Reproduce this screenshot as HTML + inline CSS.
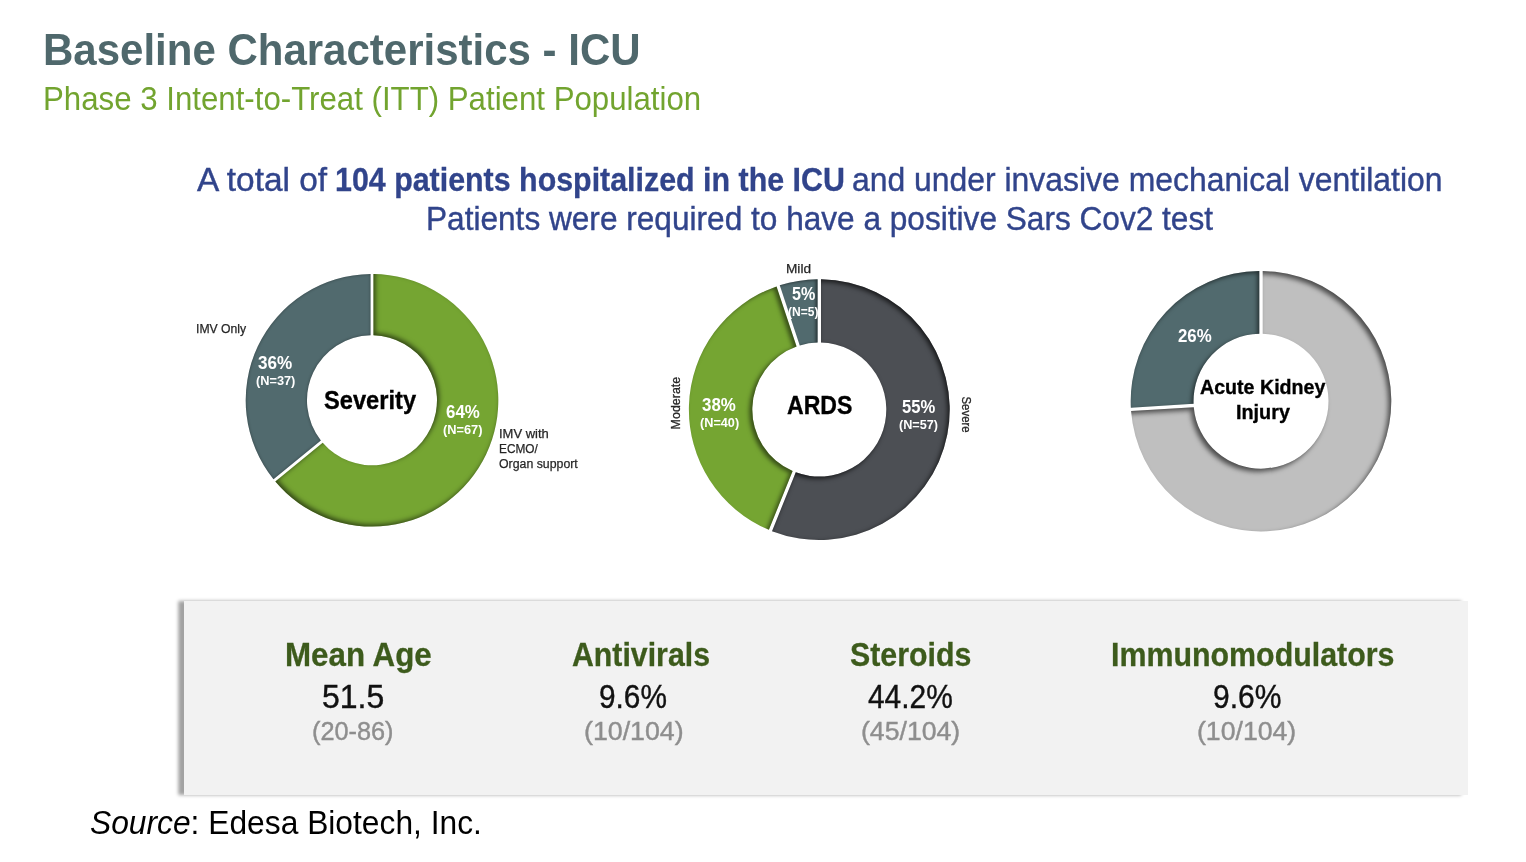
<!DOCTYPE html>
<html lang="en"><head><meta charset="utf-8"><title>Baseline Characteristics - ICU</title>
<style>
html,body{margin:0;padding:0;background:#fff;}
body{width:1526px;height:862px;position:relative;overflow:hidden;font-family:"Liberation Sans", sans-serif;}
.t{position:absolute;white-space:nowrap;line-height:1;margin:0;padding:0;transform-origin:0 0;}
.panel{position:absolute;left:184px;top:601px;width:1284px;height:194px;background:#F2F2F2;
  box-shadow:-6.5px 0 3.5px rgba(0,0,0,.37);}
svg.charts{position:absolute;left:0;top:0;}
svg.charts text{font-family:"Liberation Sans", sans-serif;stroke:#262626;stroke-width:.3px;}
svg.charts{filter:blur(.55px);}
.cl{filter:blur(.5px);}
.sm{-webkit-text-stroke:.25px #262626;}
#c1t,#c2t,#c3t,#c3u{-webkit-text-stroke:.35px #000;}
.rg{-webkit-text-stroke:.4px currentColor;}
#s1l,#s2l,#s3l,#s4l,#b1b{-webkit-text-stroke:.3px currentColor;}
</style></head>
<body>
<div class="panel"></div>
<svg class="charts" width="1526" height="862" viewBox="0 0 1526 862">
<defs>
<filter id="f1g" x="-10%" y="-10%" width="120%" height="120%" color-interpolation-filters="sRGB">
<feComponentTransfer in="SourceAlpha" result="inv"><feFuncA type="table" tableValues="1 0"/></feComponentTransfer>
<feGaussianBlur in="inv" stdDeviation="2.6" result="b"/>
<feOffset in="b" dx="2.4" dy="-2.4" result="o"/>
<feFlood flood-color="#000" flood-opacity="0.58" result="c"/>
<feComposite in="c" in2="o" operator="in" result="s"/>
<feComposite in="s" in2="SourceAlpha" operator="in" result="si"/>
<feMerge><feMergeNode in="SourceGraphic"/><feMergeNode in="si"/></feMerge>
</filter>
<filter id="f1t" x="-10%" y="-10%" width="120%" height="120%" color-interpolation-filters="sRGB">
<feComponentTransfer in="SourceAlpha" result="inv"><feFuncA type="table" tableValues="1 0"/></feComponentTransfer>
<feGaussianBlur in="inv" stdDeviation="1.8" result="b"/>
<feOffset in="b" dx="0.3" dy="0.0" result="o"/>
<feFlood flood-color="#000" flood-opacity="0.38" result="c"/>
<feComposite in="c" in2="o" operator="in" result="s"/>
<feComposite in="s" in2="SourceAlpha" operator="in" result="si"/>
<feMerge><feMergeNode in="SourceGraphic"/><feMergeNode in="si"/></feMerge>
</filter>
<filter id="f2d" x="-10%" y="-10%" width="120%" height="120%" color-interpolation-filters="sRGB">
<feComponentTransfer in="SourceAlpha" result="inv"><feFuncA type="table" tableValues="1 0"/></feComponentTransfer>
<feGaussianBlur in="inv" stdDeviation="2.4" result="b"/>
<feOffset in="b" dx="-2.4" dy="2.4" result="o"/>
<feFlood flood-color="#000" flood-opacity="0.7" result="c"/>
<feComposite in="c" in2="o" operator="in" result="s"/>
<feComposite in="s" in2="SourceAlpha" operator="in" result="si"/>
<feMerge><feMergeNode in="SourceGraphic"/><feMergeNode in="si"/></feMerge>
</filter>
<filter id="f2g" x="-10%" y="-10%" width="120%" height="120%" color-interpolation-filters="sRGB">
<feComponentTransfer in="SourceAlpha" result="inv"><feFuncA type="table" tableValues="1 0"/></feComponentTransfer>
<feGaussianBlur in="inv" stdDeviation="2.2" result="b"/>
<feOffset in="b" dx="-2.6" dy="1.6" result="o"/>
<feFlood flood-color="#000" flood-opacity="0.52" result="c"/>
<feComposite in="c" in2="o" operator="in" result="s"/>
<feComposite in="s" in2="SourceAlpha" operator="in" result="si"/>
<feMerge><feMergeNode in="SourceGraphic"/><feMergeNode in="si"/></feMerge>
</filter>
<filter id="f2t" x="-10%" y="-10%" width="120%" height="120%" color-interpolation-filters="sRGB">
<feComponentTransfer in="SourceAlpha" result="inv"><feFuncA type="table" tableValues="1 0"/></feComponentTransfer>
<feGaussianBlur in="inv" stdDeviation="1.6" result="b"/>
<feOffset in="b" dx="-2.0" dy="1.0" result="o"/>
<feFlood flood-color="#000" flood-opacity="0.5" result="c"/>
<feComposite in="c" in2="o" operator="in" result="s"/>
<feComposite in="s" in2="SourceAlpha" operator="in" result="si"/>
<feMerge><feMergeNode in="SourceGraphic"/><feMergeNode in="si"/></feMerge>
</filter>
<filter id="f3l" x="-10%" y="-10%" width="120%" height="120%" color-interpolation-filters="sRGB">
<feComponentTransfer in="SourceAlpha" result="inv"><feFuncA type="table" tableValues="1 0"/></feComponentTransfer>
<feGaussianBlur in="inv" stdDeviation="2.6" result="b"/>
<feOffset in="b" dx="-2.6" dy="2.6" result="o"/>
<feFlood flood-color="#000" flood-opacity="0.6" result="c"/>
<feComposite in="c" in2="o" operator="in" result="s"/>
<feComposite in="s" in2="SourceAlpha" operator="in" result="si"/>
<feMerge><feMergeNode in="SourceGraphic"/><feMergeNode in="si"/></feMerge>
</filter>
<filter id="f3t" x="-10%" y="-10%" width="120%" height="120%" color-interpolation-filters="sRGB">
<feComponentTransfer in="SourceAlpha" result="inv"><feFuncA type="table" tableValues="1 0"/></feComponentTransfer>
<feGaussianBlur in="inv" stdDeviation="2.2" result="b"/>
<feOffset in="b" dx="-2.5" dy="2.0" result="o"/>
<feFlood flood-color="#000" flood-opacity="0.55" result="c"/>
<feComposite in="c" in2="o" operator="in" result="s"/>
<feComposite in="s" in2="SourceAlpha" operator="in" result="si"/>
<feMerge><feMergeNode in="SourceGraphic"/><feMergeNode in="si"/></feMerge>
</filter>
</defs>
<path d="M373.45 274.01A126.3 126.3 0 1 1 275.33 481.58L322.71 442.67A65.0 65.0 0 1 0 373.45 335.32Z" fill="#75A532" filter="url(#f1g)"/>
<path d="M273.49 479.34A126.3 126.3 0 0 1 370.55 274.01L370.55 335.32A65.0 65.0 0 0 0 320.86 440.43Z" fill="#516A6E" filter="url(#f1t)"/>
<path d="M821.00 279.21A130.4 130.4 0 1 1 772.03 531.13L795.79 472.34A67.0 67.0 0 1 0 821.00 342.62Z" fill="#4C4F54" filter="url(#f2d)"/>
<path d="M768.88 529.86A130.4 130.4 0 0 1 776.53 286.41L796.55 346.58A67.0 67.0 0 0 0 792.63 471.06Z" fill="#75A532" filter="url(#f2g)"/>
<path d="M779.76 285.34A130.4 130.4 0 0 1 817.60 279.21L817.60 342.62A67.0 67.0 0 0 0 799.77 345.51Z" fill="#516A6E" filter="url(#f2t)"/>
<path d="M1262.70 270.91A130.3 130.3 0 1 1 1131.07 411.08L1193.76 407.13A67.5 67.5 0 1 0 1262.70 333.72Z" fill="#BFBFBF" filter="url(#f3l)"/>
<path d="M1130.86 407.68A130.3 130.3 0 0 1 1259.30 270.91L1259.30 333.72A67.5 67.5 0 0 0 1193.55 403.74Z" fill="#516A6E" filter="url(#f3t)"/>
<text x="680.1" y="429.4" font-size="12.5" font-weight="400" fill="#262626" textLength="52.6" lengthAdjust="spacingAndGlyphs" transform="rotate(-90 680.1 429.4)">Moderate</text>
<text x="961.6" y="396.5" font-size="12.5" font-weight="400" fill="#262626" textLength="36.2" lengthAdjust="spacingAndGlyphs" transform="rotate(90 961.6 396.5)">Severe</text>
</svg>
<div class="t" id="title" style="left:42.99px;top:26.50px;font-size:45px;font-weight:700;color:#4F686C;transform:scaleX(0.9333)">Baseline Characteristics - ICU</div>
<div class="t" id="sub" style="left:42.64px;top:82.60px;font-size:32.8px;font-weight:400;color:#72A42F;transform:scaleX(0.9518)">Phase 3 Intent-to-Treat (ITT) Patient Population</div>
<div class="t rg" id="b1a" style="left:196.83px;top:162.70px;font-size:33.5px;font-weight:400;color:#31448B;transform:scaleX(0.9980)">A total of</div>
<div class="t" id="b1b" style="left:334.89px;top:162.70px;font-size:33.5px;font-weight:700;color:#31448B;transform:scaleX(0.9070)">104 patients hospitalized in the ICU</div>
<div class="t rg" id="b1c" style="left:852.24px;top:162.70px;font-size:33.5px;font-weight:400;color:#31448B;transform:scaleX(0.9522)">and under invasive mechanical ventilation</div>
<div class="t rg" id="b2" style="left:425.81px;top:201.70px;font-size:33.5px;font-weight:400;color:#31448B;transform:scaleX(0.9434)">Patients were required to have a positive Sars Cov2 test</div>
<div class="t" id="s1l" style="left:285.41px;top:639.00px;font-size:32.5px;font-weight:700;color:#3D5B1C;transform:scaleX(0.9630)">Mean Age</div>
<div class="t rg" id="s1v" style="left:322.42px;top:681.10px;font-size:32.6px;font-weight:400;color:#111;transform:scaleX(0.9811)">51.5</div>
<div class="t rg" id="s1s" style="left:312.03px;top:718.80px;font-size:25px;font-weight:400;color:#8E8E8E;transform:scaleX(1.0117)">(20-86)</div>
<div class="t" id="s2l" style="left:572.15px;top:639.00px;font-size:32.5px;font-weight:700;color:#3D5B1C;transform:scaleX(0.9317)">Antivirals</div>
<div class="t rg" id="s2v" style="left:599.40px;top:681.10px;font-size:32.6px;font-weight:400;color:#111;transform:scaleX(0.9151)">9.6%</div>
<div class="t rg" id="s2s" style="left:583.74px;top:718.80px;font-size:25px;font-weight:400;color:#8E8E8E;transform:scaleX(1.0697)">(10/104)</div>
<div class="t" id="s3l" style="left:850.23px;top:639.00px;font-size:32.5px;font-weight:700;color:#3D5B1C;transform:scaleX(0.9337)">Steroids</div>
<div class="t rg" id="s3v" style="left:867.51px;top:681.10px;font-size:32.6px;font-weight:400;color:#111;transform:scaleX(0.9175)">44.2%</div>
<div class="t rg" id="s3s" style="left:860.95px;top:718.80px;font-size:25px;font-weight:400;color:#8E8E8E;transform:scaleX(1.0653)">(45/104)</div>
<div class="t" id="s4l" style="left:1111.07px;top:639.00px;font-size:32.5px;font-weight:700;color:#3D5B1C;transform:scaleX(0.9345)">Immunomodulators</div>
<div class="t rg" id="s4v" style="left:1212.59px;top:681.10px;font-size:32.6px;font-weight:400;color:#111;transform:scaleX(0.9221)">9.6%</div>
<div class="t rg" id="s4s" style="left:1197.45px;top:718.80px;font-size:25px;font-weight:400;color:#8E8E8E;transform:scaleX(1.0653)">(10/104)</div>
<div class="t" id="src" style="left:90.10px;top:806.40px;font-size:33px;font-weight:400;color:#000;transform:scaleX(0.9623)"><i>Source</i>: Edesa Biotech, Inc.</div>
<div class="t cl sm" id="c1a" style="left:195.87px;top:323.20px;font-size:12.5px;font-weight:400;color:#262626;transform:scaleX(0.9755)">IMV Only</div>
<div class="t cl" id="c1p" style="left:257.91px;top:353.50px;font-size:18.7px;font-weight:700;color:#fff;transform:scaleX(0.9155)">36%</div>
<div class="t cl" id="c1n" style="left:255.56px;top:374.60px;font-size:12.5px;font-weight:700;color:#fff;transform:scaleX(1.0210)">(N=37)</div>
<div class="t cl" id="c1t" style="left:324.22px;top:387.70px;font-size:25.4px;font-weight:700;color:#000;transform:scaleX(0.9322)">Severity</div>
<div class="t cl" id="c1q" style="left:445.98px;top:402.80px;font-size:18.7px;font-weight:700;color:#fff;transform:scaleX(0.9026)">64%</div>
<div class="t cl" id="c1m" style="left:443.26px;top:424.00px;font-size:12.5px;font-weight:700;color:#fff;transform:scaleX(1.0237)">(N=67)</div>
<div class="t cl sm" id="c1b" style="left:498.50px;top:427.70px;font-size:12.5px;font-weight:400;color:#262626;transform:scaleX(1.0376)">IMV with</div>
<div class="t cl sm" id="c1c" style="left:498.73px;top:443.20px;font-size:12.5px;font-weight:400;color:#262626;transform:scaleX(0.9460)">ECMO/</div>
<div class="t cl sm" id="c1d" style="left:499.12px;top:458.10px;font-size:12.5px;font-weight:400;color:#262626;transform:scaleX(0.9856)">Organ support</div>
<div class="t cl sm" id="c2a" style="left:785.98px;top:263.40px;font-size:12.5px;font-weight:400;color:#262626;transform:scaleX(1.0905)">Mild</div>
<div class="t cl" id="c2p" style="left:792.10px;top:284.70px;font-size:18.7px;font-weight:700;color:#fff;transform:scaleX(0.8633)">5%</div>
<div class="t cl" id="c2n" style="left:788.30px;top:305.60px;font-size:12.5px;font-weight:700;color:#fff;transform:scaleX(0.9617)">(N=5)</div>
<div class="t cl" id="c2q" style="left:701.91px;top:395.90px;font-size:18.7px;font-weight:700;color:#fff;transform:scaleX(0.9045)">38%</div>
<div class="t cl" id="c2m" style="left:699.57px;top:416.60px;font-size:12.5px;font-weight:700;color:#fff;transform:scaleX(1.0156)">(N=40)</div>
<div class="t cl" id="c2t" style="left:786.62px;top:392.70px;font-size:25.6px;font-weight:700;color:#000;transform:scaleX(0.9028)">ARDS</div>
<div class="t cl" id="c2r" style="left:901.59px;top:398.00px;font-size:18.7px;font-weight:700;color:#fff;transform:scaleX(0.8889)">55%</div>
<div class="t cl" id="c2o" style="left:898.77px;top:418.80px;font-size:12.5px;font-weight:700;color:#fff;transform:scaleX(1.0129)">(N=57)</div>
<div class="t cl" id="c3p" style="left:1178.32px;top:327.40px;font-size:18.7px;font-weight:700;color:#fff;transform:scaleX(0.9017)">26%</div>
<div class="t cl" id="c3t" style="left:1199.91px;top:377.20px;font-size:20.5px;font-weight:700;color:#000;transform:scaleX(0.9572)">Acute Kidney</div>
<div class="t cl" id="c3u" style="left:1235.58px;top:402.40px;font-size:20.5px;font-weight:700;color:#000;transform:scaleX(0.9660)">Injury</div>
</body></html>
